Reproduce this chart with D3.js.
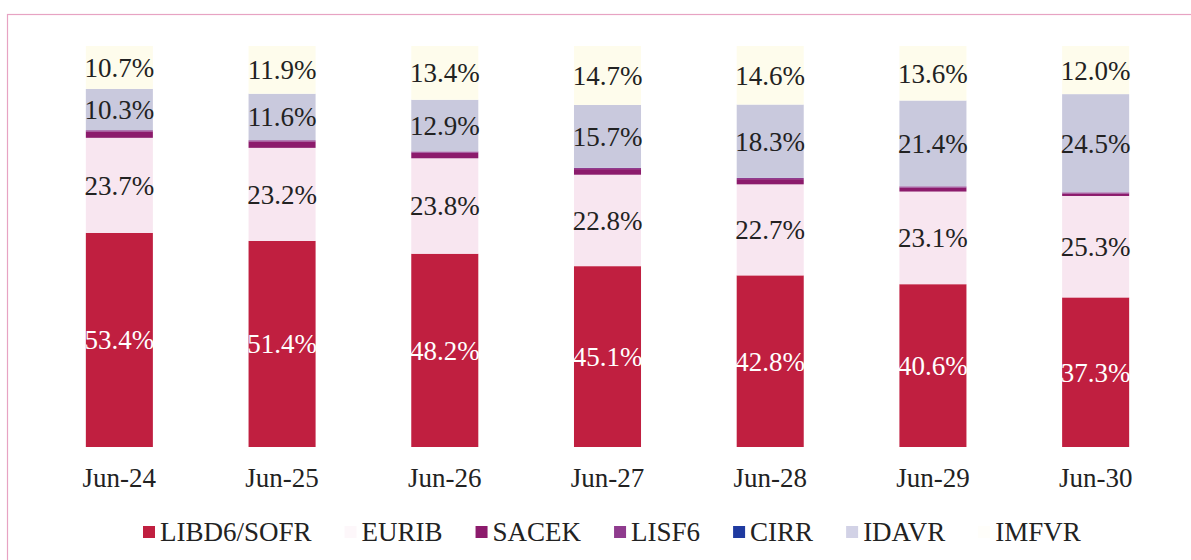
<!DOCTYPE html>
<html>
<head>
<meta charset="utf-8">
<script src="https://cdn.jsdelivr.net/npm/d3@7"></script>
<style>
  body { margin: 0; background: #fff; }
  text { font-family: "Liberation Serif", "Times New Roman", serif; }
</style>
</head>
<body>
<script>
var categories = ["Jun-24", "Jun-25", "Jun-26", "Jun-27", "Jun-28", "Jun-29", "Jun-30"];
var seriesNames = ["LIBD6/SOFR", "EURIB", "SACEK", "LISF6", "CIRR", "IDAVR", "IMFVR"];

var libd  = [53.4, 51.4, 48.2, 45.1, 42.8, 40.6, 37.3];
var eurib = [23.7, 23.2, 23.8, 22.8, 22.7, 23.1, 25.3];
var sacek = [1.6, 1.6, 1.4, 1.4, 1.3, 1.0, 0.6];
var lisf6 = [0.3, 0.3, 0.3, 0.3, 0.3, 0.3, 0.3];
var cirr  = [0, 0, 0, 0, 0, 0, 0];
var idavr = [10.3, 11.6, 12.9, 15.7, 18.3, 21.4, 24.5];
var imfvr = [10.7, 11.9, 13.4, 14.7, 14.6, 13.6, 12.0];

var seriesValues = [libd, eurib, sacek, lisf6, cirr, idavr, imfvr];
var showLabel = [true, true, false, false, false, true, true];

var colors = ["#c01f40", "#f8e6f0", "#8c1b6c", "#8f3b8e", "#1f3aa0", "#c9c9dd", "#fefcec"];
var legendColors = ["#c01f40", "#fdf7fa", "#8c1b6c", "#8f3b8e", "#1f3aa0", "#d2d2e6", "#fffefa"];
var labelColors = ["#ffffff", "#222", "#222", "#222", "#222", "#222", "#222"];

var W = 1191, H = 560;

var rows = categories.map(function (c, i) {
  var r = {cat: c};
  seriesNames.forEach(function (s, j) { r[s] = seriesValues[j][i]; });
  return r;
});

var stack = d3.stack().keys(seriesNames)(rows);

var x = d3.scaleBand()
    .domain(categories)
    .range([38, 1177])
    .paddingInner(0.588)
    .paddingOuter(0.294);

var y = d3.scaleLinear()
    .domain([0, 100])
    .range([447, 46]);

var svg = d3.select("body").append("svg")
    .attr("width", W)
    .attr("height", H);

// outer border
svg.append("rect")
    .attr("x", 7.5).attr("y", 14.5)
    .attr("width", 1200).attr("height", 600)
    .attr("fill", "none")
    .attr("stroke", "#e7a3c3")
    .attr("stroke-width", 1.2);

var layer = svg.selectAll(".layer")
    .data(stack)
    .enter().append("g")
    .attr("class", "layer")
    .attr("fill", function (d, i) { return colors[i]; });

layer.selectAll("rect")
    .data(function (d) { return d; })
    .enter().append("rect")
    .attr("x", function (d) { return x(d.data.cat); })
    .attr("y", function (d) { return y(d[1]); })
    .attr("width", x.bandwidth())
    .attr("height", function (d) { return y(d[0]) - y(d[1]); });

// segment labels
stack.forEach(function (s, i) {
  if (!showLabel[i]) return;
  svg.append("g").selectAll("text")
    .data(s)
    .enter().append("text")
    .attr("x", function (d) { return x(d.data.cat) + x.bandwidth() / 2; })
    .attr("y", function (d) { return (y(d[0]) + y(d[1])) / 2; })
    .attr("dy", "0.35em")
    .attr("text-anchor", "middle")
    .attr("font-size", "27px")
    .attr("fill", labelColors[i])
    .text(function (d) { return (d[1] - d[0]).toFixed(1) + "%"; });
});

// x axis labels
var xAxis = svg.append("g")
    .attr("transform", "translate(0,447)")
    .call(d3.axisBottom(x).tickSize(0).tickPadding(21));
xAxis.select(".domain").remove();
xAxis.selectAll("text")
    .attr("font-family", "Liberation Serif, serif")
    .attr("font-size", "27px")
    .attr("fill", "#222");

// legend
var legend = svg.append("g").attr("transform", "translate(143,532)");
var lx = 0;
seriesNames.forEach(function (name, i) {
  var g = legend.append("g").attr("transform", "translate(" + lx + ",0)");
  g.append("rect")
    .attr("x", 0).attr("y", -6)
    .attr("width", 12).attr("height", 12)
    .attr("fill", legendColors[i]);
  var t = g.append("text")
    .attr("x", 17)
    .attr("dy", "0.35em")
    .attr("font-size", "27px")
    .attr("fill", "#222")
    .text(name);
  lx += 17 + t.node().getComputedTextLength() + 33;
});
</script>
</body>
</html>
